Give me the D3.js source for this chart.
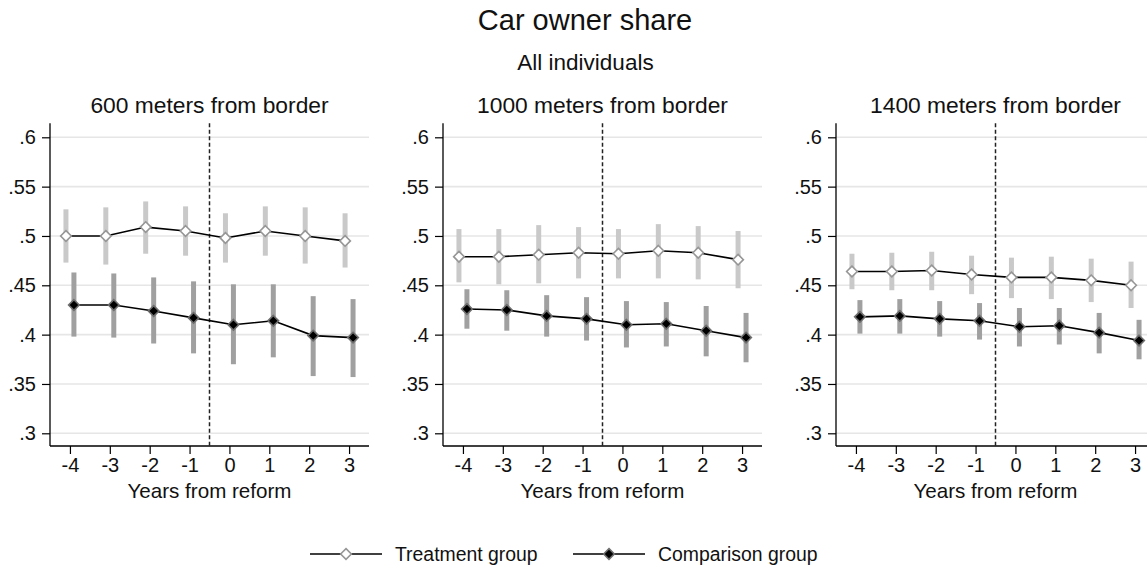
<!DOCTYPE html>
<html>
<head>
<meta charset="utf-8">
<script src="https://cdn.jsdelivr.net/npm/d3@7"></script>
<style>
  html, body { margin: 0; padding: 0; background: #fff; }
  svg { display: block; font-family: "Liberation Sans", Arial, sans-serif; }
</style>
</head>
<body>
<svg id="chart" width="1147" height="572"></svg>
<script>
// Event-study estimates of car ownership share, by distance band
const years = [-4, -3, -2, -1, 0, 1, 2, 3];
const yTicks = [0.3, 0.35, 0.4, 0.45, 0.5, 0.55, 0.6];
const yTickLabels = [".3", ".35", ".4", ".45", ".5", ".55", ".6"];
const panelTitles = ["600 meters from border", "1000 meters from border", "1400 meters from border"];
const seriesNames = ["Treatment group", "Comparison group"];

// 600 m
const treat600   = [0.500, 0.500, 0.509, 0.505, 0.498, 0.505, 0.500, 0.495];
const treat600Lo = [0.473, 0.471, 0.482, 0.480, 0.473, 0.480, 0.472, 0.468];
const treat600Hi = [0.527, 0.529, 0.535, 0.530, 0.523, 0.530, 0.529, 0.523];
const comp600    = [0.430, 0.430, 0.424, 0.417, 0.410, 0.414, 0.399, 0.397];
const comp600Lo  = [0.398, 0.397, 0.391, 0.381, 0.370, 0.377, 0.358, 0.357];
const comp600Hi  = [0.463, 0.462, 0.458, 0.454, 0.451, 0.451, 0.439, 0.436];

// 1000 m
const treat1000   = [0.479, 0.479, 0.481, 0.483, 0.482, 0.485, 0.483, 0.476];
const treat1000Lo = [0.453, 0.451, 0.452, 0.457, 0.457, 0.457, 0.456, 0.447];
const treat1000Hi = [0.507, 0.507, 0.511, 0.509, 0.507, 0.512, 0.510, 0.505];
const comp1000    = [0.426, 0.425, 0.419, 0.416, 0.410, 0.411, 0.404, 0.397];
const comp1000Lo  = [0.406, 0.404, 0.398, 0.394, 0.387, 0.388, 0.378, 0.372];
const comp1000Hi  = [0.446, 0.445, 0.440, 0.438, 0.434, 0.433, 0.429, 0.422];

// 1400 m
const treat1400   = [0.464, 0.464, 0.465, 0.461, 0.458, 0.458, 0.455, 0.450];
const treat1400Lo = [0.446, 0.445, 0.445, 0.441, 0.437, 0.436, 0.433, 0.427];
const treat1400Hi = [0.482, 0.483, 0.484, 0.480, 0.478, 0.479, 0.477, 0.474];
const comp1400    = [0.418, 0.419, 0.416, 0.414, 0.408, 0.409, 0.402, 0.394];
const comp1400Lo  = [0.401, 0.401, 0.398, 0.395, 0.388, 0.390, 0.381, 0.375];
const comp1400Hi  = [0.435, 0.436, 0.434, 0.432, 0.427, 0.427, 0.422, 0.415];

const panels = [
  { title: panelTitles[0], treat: [treat600, treat600Lo, treat600Hi], comp: [comp600, comp600Lo, comp600Hi] },
  { title: panelTitles[1], treat: [treat1000, treat1000Lo, treat1000Hi], comp: [comp1000, comp1000Lo, comp1000Hi] },
  { title: panelTitles[2], treat: [treat1400, treat1400Lo, treat1400Hi], comp: [comp1400, comp1400Lo, comp1400Hi] }
];

const svg = d3.select("#chart");
const W = 1147;

// Layout
const panelLeft0 = 50, panelStep = 393, panelWidth = 319;
const plotTop = 123.3, plotBottom = 446;
const xShift = 0.1;          // horizontal dodge between the two groups
const reformLine = -0.5;

const y = d3.scaleLinear().domain([0.3, 0.6]).range([433.3, 137.3]);

const style = {
  treat: { bar: "#c9c9c9", fill: "#ffffff", stroke: "#969696" },
  comp:  { bar: "#a0a0a0", fill: "#000000", stroke: "#6e6e6e" }
};

// Titles
svg.append("text").attr("x", 585).attr("y", 20).attr("text-anchor", "middle")
  .attr("dominant-baseline", "central").attr("font-size", 29).attr("fill", "#111")
  .text("Car owner share");
svg.append("text").attr("x", 585.5).attr("y", 62.5).attr("text-anchor", "middle")
  .attr("dominant-baseline", "central").attr("font-size", 22.5).attr("fill", "#111")
  .text("All individuals");

const diamond = d3.symbol().type(d3.symbolDiamond2).size(72);

panels.forEach((p, i) => {
  const left = panelLeft0 + i * panelStep;
  const x = d3.scaleLinear().domain([-4.5, 3.5]).range([left, left + panelWidth]);
  const g = svg.append("g");

  // clip to the visible area
  const clipId = "clip" + i;
  g.append("clipPath").attr("id", clipId).append("rect")
    .attr("x", left).attr("y", 0).attr("width", panelWidth).attr("height", 572);
  const plot = g.append("g").attr("clip-path", `url(#${clipId})`);

  // Panel title
  g.append("text").attr("x", (x(-4.5) + x(3.5)) / 2).attr("y", 105)
    .attr("text-anchor", "middle").attr("dominant-baseline", "central")
    .attr("font-size", 22.8).attr("fill", "#111").text(p.title);

  // Gridlines
  plot.selectAll(".grid").data(yTicks).join("line")
    .attr("x1", x(-4.5)).attr("x2", x(3.5))
    .attr("y1", d => y(d)).attr("y2", d => y(d))
    .attr("stroke", "#e6e6e6").attr("stroke-width", 1.6);

  // Y axis
  const yAxis = d3.axisLeft(y).tickValues(yTicks)
    .tickFormat((d, k) => yTickLabels[k]).tickSize(8).tickPadding(6);
  const ya = g.append("g").attr("transform", `translate(${left},0)`).call(yAxis);
  ya.select(".domain").remove();
  ya.selectAll("line").attr("stroke", "#000").attr("stroke-width", 1.2);
  ya.selectAll("text").attr("font-size", 20).attr("fill", "#111")
    .attr("font-family", "Liberation Sans, Arial, sans-serif");
  g.append("line").attr("x1", left).attr("x2", left).attr("y1", plotTop).attr("y2", plotBottom)
    .attr("stroke", "#000").attr("stroke-width", 1.3);

  // X axis
  const xAxis = d3.axisBottom(x).tickValues(years).tickFormat(d3.format("d")).tickSize(8).tickPadding(4);
  const xa = g.append("g").attr("transform", `translate(0,${plotBottom})`).call(xAxis);
  xa.select(".domain").remove();
  xa.selectAll("line").attr("stroke", "#000").attr("stroke-width", 1.2);
  xa.selectAll("text").attr("font-size", 20).attr("fill", "#111")
    .attr("font-family", "Liberation Sans, Arial, sans-serif")
    .text(d => d < 0 ? "-" + Math.abs(d) : d);
  plot.append("line").attr("x1", x(-4.5)).attr("x2", x(3.5)).attr("y1", plotBottom).attr("y2", plotBottom)
    .attr("stroke", "#000").attr("stroke-width", 1.3);
  g.append("text").attr("x", (x(-4.5) + x(3.5)) / 2).attr("y", 490)
    .attr("text-anchor", "middle").attr("dominant-baseline", "central")
    .attr("font-size", 20.6).attr("fill", "#111").text("Years from reform");

  // Reform line
  plot.append("line").attr("x1", x(reformLine)).attr("x2", x(reformLine))
    .attr("y1", plotTop).attr("y2", plotBottom)
    .attr("stroke", "#222").attr("stroke-width", 1.5).attr("stroke-dasharray", "4,2.5");

  const groups = [
    { key: "treat", d: p.treat, dx: -xShift },
    { key: "comp",  d: p.comp,  dx: xShift }
  ];

  // Confidence intervals
  groups.forEach(s => {
    const rows = years.map((yr, k) => ({ yr, v: s.d[0][k], lo: s.d[1][k], hi: s.d[2][k] }));
    plot.selectAll(".ci-" + s.key).data(rows).join("line")
      .attr("x1", r => x(r.yr + s.dx)).attr("x2", r => x(r.yr + s.dx))
      .attr("y1", r => y(r.lo)).attr("y2", r => y(r.hi))
      .attr("stroke", style[s.key].bar).attr("stroke-width", 5);
  });

  // Connecting lines and markers
  groups.forEach(s => {
    const rows = years.map((yr, k) => ({ yr, v: s.d[0][k] }));
    const line = d3.line().x(r => x(r.yr + s.dx)).y(r => y(r.v));
    plot.append("path").datum(rows).attr("d", line)
      .attr("fill", "none").attr("stroke", "#000").attr("stroke-width", 1.6);
  });
  groups.forEach(s => {
    const rows = years.map((yr, k) => ({ yr, v: s.d[0][k] }));
    plot.selectAll(".mk-" + s.key).data(rows).join("path")
      .attr("d", diamond)
      .attr("transform", r => `translate(${x(r.yr + s.dx)},${y(r.v)})`)
      .attr("fill", style[s.key].fill).attr("stroke", style[s.key].stroke).attr("stroke-width", 1.6);
  });
});

// Legend
const legendY = 554;
const legendItems = [
  { name: seriesNames[0], key: "treat", x0: 310 },
  { name: seriesNames[1], key: "comp",  x0: 573 }
];
const lg = svg.append("g");
legendItems.forEach(it => {
  lg.append("line").attr("x1", it.x0).attr("x2", it.x0 + 72).attr("y1", legendY).attr("y2", legendY)
    .attr("stroke", "#000").attr("stroke-width", 1.6);
  lg.append("path").attr("d", diamond).attr("transform", `translate(${it.x0 + 36},${legendY})`)
    .attr("fill", style[it.key].fill).attr("stroke", style[it.key].stroke).attr("stroke-width", 1.6);
  lg.append("text").attr("x", it.x0 + 85).attr("y", legendY).attr("dominant-baseline", "central")
    .attr("font-size", 19.4).attr("fill", "#111").text(it.name);
});
</script>
</body>
</html>
